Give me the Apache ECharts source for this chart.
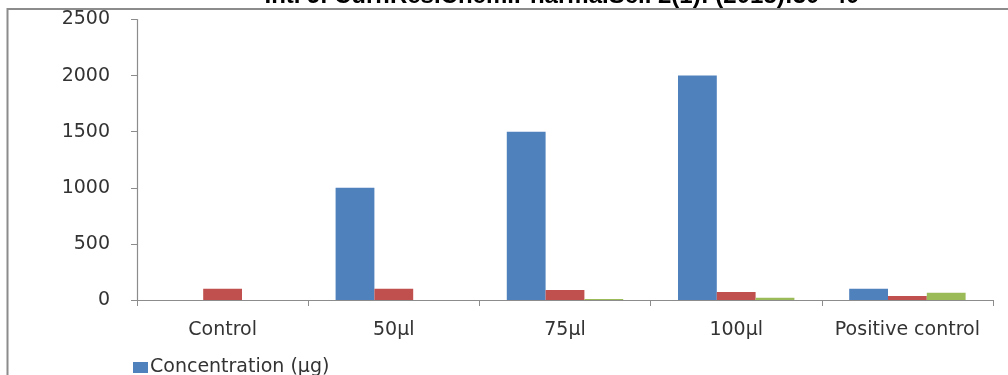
<!DOCTYPE html>
<html>
<head>
<meta charset="utf-8">
<script src="https://cdn.jsdelivr.net/npm/echarts@6/dist/echarts.min.js"></script>
<style>html,body{margin:0;padding:0;background:#fff}#c{width:1008px;height:375px}</style>
</head>
<body>
<div id="c"></div>
<script>
const categories = ['Control', '50\u00b5l', '75\u00b5l', '100\u00b5l', 'Positive control'];
const seriesNames = ['Concentration (\u00b5g)', 'Series 2', 'Series 3'];
const blueValues = [0, 1000, 1500, 2000, 100];
const redValues = [100, 100, 90, 72, 36];
const greenValues = [0, 0, 10, 20, 65];
const yTicks = [0, 500, 1000, 1500, 2000, 2500];
const titleText = 'Int. J. Curr.Res.Chem.Pharma.Sci. 2(1): (2015):30\u201340';

const chart = echarts.init(document.getElementById('c'));
const font = '"DejaVu Sans", sans-serif';
chart.setOption({
  animation: false,
  backgroundColor: '#fff',
  graphic: [
    { type: 'text', x: 562, y: 8.5, z: -10, style: { text: titleText, font: 'bold 24px "Liberation Sans", Arial, sans-serif', fill: '#000', align: 'center', verticalAlign: 'bottom' } },
    { type: 'rect', z: -5, shape: { x: 0, y: 9, width: 1008, height: 3 }, style: { fill: '#fff' } },
    { type: 'line', z: 3, shape: { x1: 7.5, y1: 9, x2: 1008, y2: 9 }, style: { stroke: '#8c8c8c', lineWidth: 2 } },
    { type: 'line', z: 3, shape: { x1: 7.5, y1: 8, x2: 7.5, y2: 375 }, style: { stroke: '#8c8c8c', lineWidth: 2 } }
  ],
  grid: { left: 137, right: 15, top: 19.5, bottom: 75, containLabel: false },
  legend: {
    data: [seriesNames[0]],
    left: 128, top: 353,
    itemWidth: 15, itemHeight: 11, itemGap: 10,
    icon: 'rect',
    textStyle: { fontFamily: font, fontSize: 19, color: '#333', padding: [0, 0, 0, -3] }
  },
  xAxis: {
    type: 'category',
    data: categories,
    axisLine: { lineStyle: { color: '#8c8c8c', width: 1.2 } },
    axisTick: { show: true, length: 6, lineStyle: { color: '#8c8c8c' } },
    axisLabel: { fontFamily: font, fontSize: 19, color: '#333', margin: 21, interval: 0 },
    splitLine: { show: false }
  },
  yAxis: {
    type: 'value',
    min: yTicks[0], max: yTicks[yTicks.length - 1], interval: 500,
    axisLine: { show: true, lineStyle: { color: '#8c8c8c', width: 1.2 } },
    axisTick: { show: true, length: 6, lineStyle: { color: '#8c8c8c' } },
    axisLabel: { fontFamily: font, fontSize: 19, color: '#333', margin: 27, formatter: v => String(v) },
    splitLine: { show: false }
  },
  series: [
    { name: seriesNames[0], type: 'bar', data: blueValues, itemStyle: { color: '#4F81BD' }, barGap: '0%', barCategoryGap: '32%' },
    { name: seriesNames[1], type: 'bar', data: redValues, itemStyle: { color: '#C0504D' }, barGap: '0%', barCategoryGap: '32%' },
    { name: seriesNames[2], type: 'bar', data: greenValues, itemStyle: { color: '#9BBB59' }, barGap: '0%', barCategoryGap: '32%' }
  ]
});
</script>
</body>
</html>
